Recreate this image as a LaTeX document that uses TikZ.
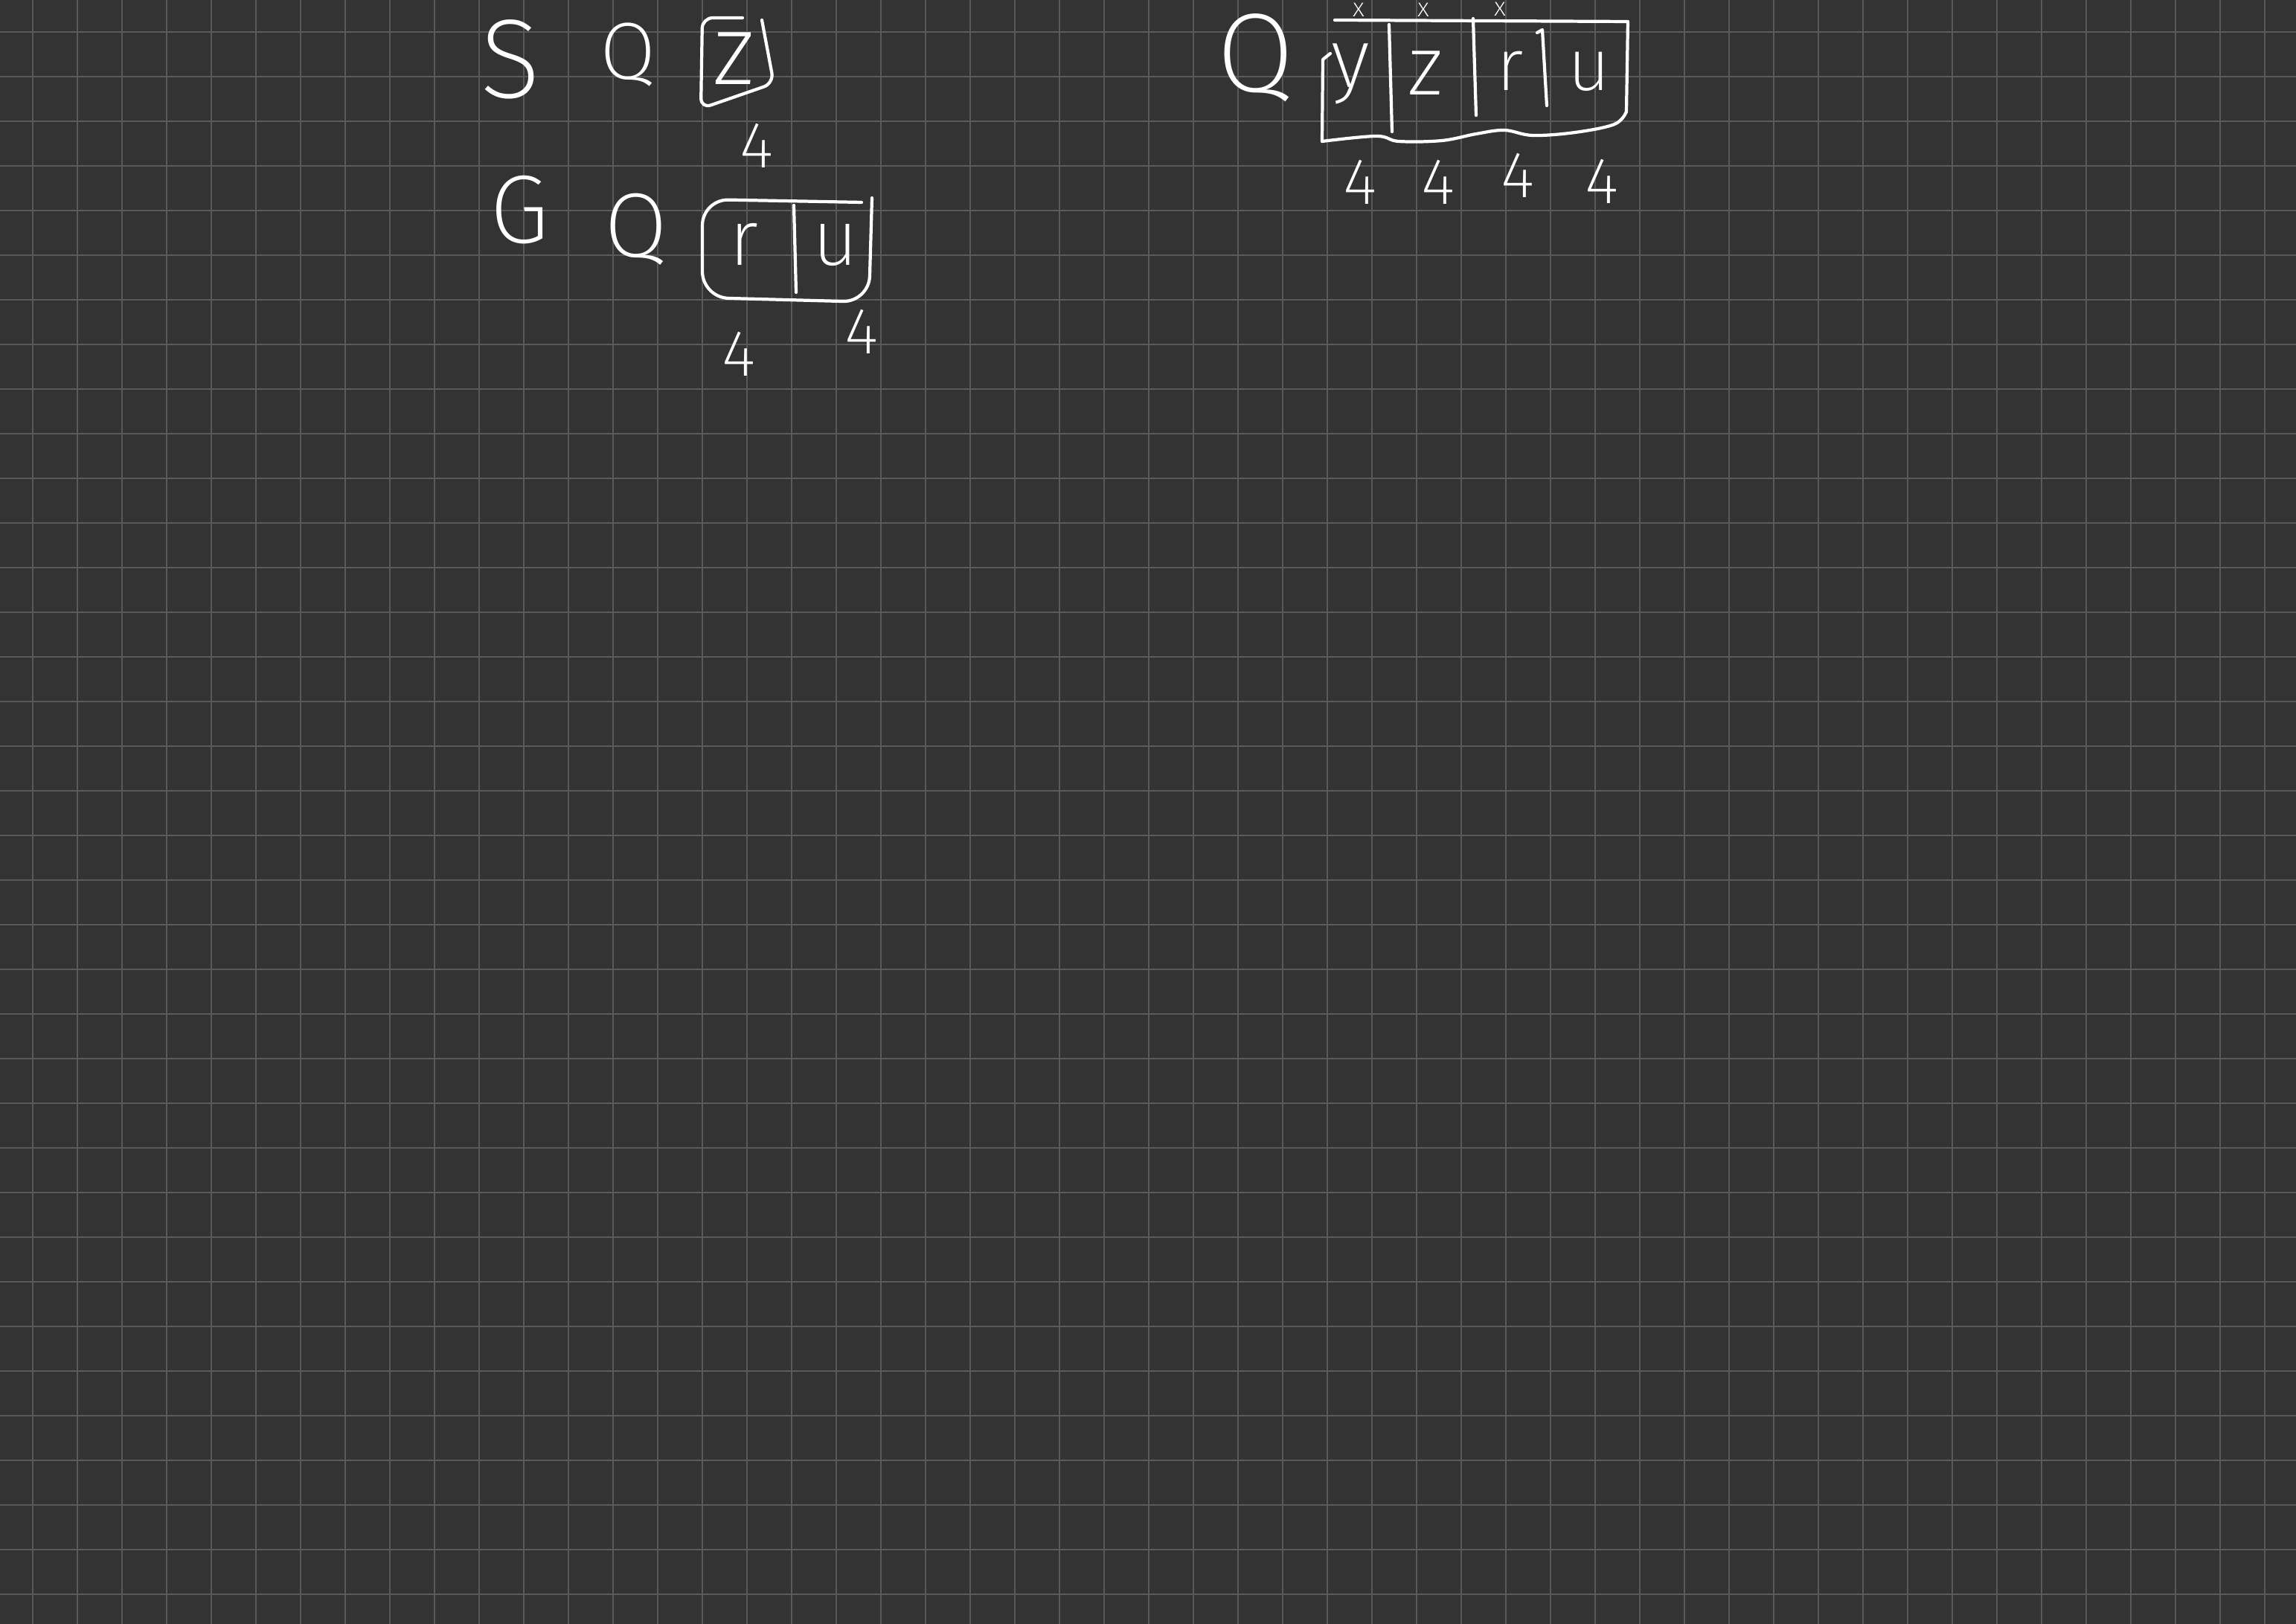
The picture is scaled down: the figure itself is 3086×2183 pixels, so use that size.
\documentclass[tikz,border=0pt]{standalone}
\usepackage{xcolor}
\usepackage{fontspec}
\usepackage{tikz}
\usetikzlibrary{positioning}
\IfFontExistsTF{Fira Sans ExtraLight}{\newfontfamily\handfont{Fira Sans ExtraLight}}{%
  \IfFontExistsTF{Fira Sans Light}{\newfontfamily\handfont{Fira Sans Light}}{%
    \IfFontExistsTF{Lato Light}{\newfontfamily\handfont{Lato Light}}{%
      \newfontfamily\handfont{Fira Sans}}}}
\definecolor{board}{HTML}{333333}
\definecolor{gridgray}{HTML}{595959}

\begin{document}
\begin{tikzpicture}[
    x=0.01cm, y=-0.01cm,
    gridline/.style={gridgray, line width=0.6pt},
    ink/.style={white, line width=1.2pt, line cap=round, line join=round},
    glyph/.style={text=white, inner sep=0pt,
                  font=\handfont\fontsize{#1}{#1}\selectfont},
    glyph/.default=30,
    cell/.style={glyph=#1, anchor=base},
    cell/.default=28,
    size/.style={glyph=25},
    xmark/.style={glyph=10, anchor=base}
  ]
    % board and grid
    \fill[board] (0,0) rectangle (3086,2183);
    \useasboundingbox (0,0) rectangle (3086,2183);
    \foreach \gx in {44,104,...,3044} \draw[gridline] (\gx,0) -- (\gx,2183);
    \foreach \gy in {43,103,...,2143} \draw[gridline] (0,\gy) -- (3086,\gy);

    % first row
    \node[glyph=43] (s1) at (686,80) {S};
    \node[glyph=31] (q1) at (844,74) {Q};
    \node[cell=38]  (z1) at (986,114) {z};
    \draw[ink, rounded corners=4pt] (998,24) -- (944,24) -- (942,146) -- (1040,112) -- (1024,27);
    \node[size] (n1) at (1017,196) {4};

    % second row
    \node[glyph=37] (g2) at (698,282) {G};
    \node[glyph=35] (q2) at (855,308) {Q};
    \node[cell=30] (r2) at (1000,357) {r};
    \node[cell=30] (u2) at (1123,357) {u};
    \draw[ink, rounded corners=10pt] (1158,272) -- (944,268) -- (944,400) -- (1168,406) -- (1172,266);
    \draw[ink] (1067,276) -- (1070,393);
    \node[size] (n2a) at (993,476) {4};
    \node[size] (n2b) at (1158,446) {4};

    % right block
    \node[glyph=43] (q3) at (1688,78) {Q};
    \draw[ink] (1794,27) -- (2188,29) -- (2186,150);
    \draw[ink] plot[smooth, tension=0.6] coordinates {(2186,150) (2170,167) (2117,178)
        (2060,182) (2022,175) (1984,180) (1938,189) (1880,190) (1850,183) (1777,190)};
    \draw[ink] (1777,190) -- (1778,80) -- (1788,72);
    \draw[ink] (1867,33) -- (1871,177);
    \draw[ink] (1980,25) -- (1984,155);
    \draw[ink] (2066,44) -- (2073,40) -- (2079,142);
    \node[cell=32] (y3) at (1815,118) {y};
    \node[cell=32] (z3) at (1916,128) {z};
    \node[cell] (r3) at (2030,122) {r};
    \node[cell] (u3) at (2136,122) {u};
    \node[xmark] (x1) at (1826,23) {x};
    \node[xmark] (x2) at (1913,23) {x};
    \node[xmark] (x3) at (2016,22) {x};
    \node[size] (n3a) at (1828,245) {4};
    \node[size] (n3b) at (1933,245) {4};
    \node[size] (n3c) at (2040,236) {4};
    \node[size] (n3d) at (2153,244) {4};
\end{tikzpicture}
\end{document}
